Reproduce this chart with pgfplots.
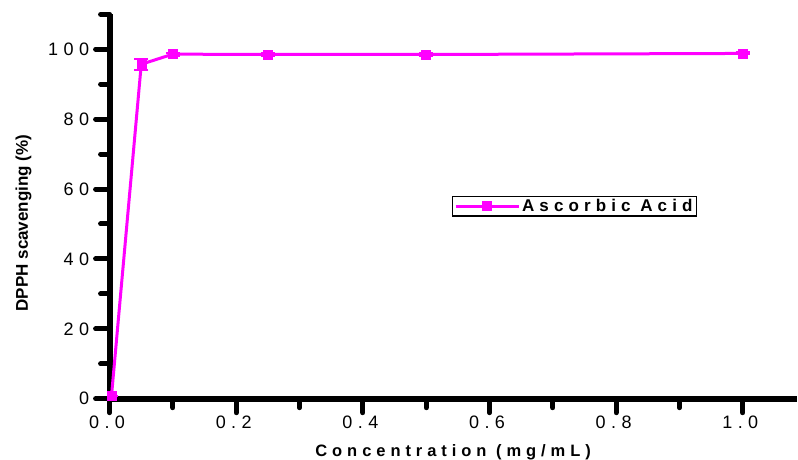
\documentclass[border=0pt]{standalone}
\usepackage{pgfplots}
\pgfplotsset{compat=1.18}
\usepackage{fontspec}
\setmainfont{Liberation Sans}
\newfontfamily\spaced[LetterSpace=30]{Liberation Sans}
\definecolor{mag}{RGB}{255,0,255}

\begin{document}
\begin{tikzpicture}
\begin{axis}[
scale only axis,
width=687pt,
height=384.4pt,
xmin=0, xmax=1.085,
ymin=0, ymax=110,
axis x line*=bottom,
axis y line*=left,
separate axis lines,
x axis line style={-, line width=6pt},
y axis line style={-, line width=6pt},
tick align=outside,
xtick={0,0.2,0.4,0.6,0.8,1.0},
ytick={0,20,40,60,80,100},
minor xtick={0.1,0.3,0.5,0.7,0.9},
minor ytick={10,30,50,70,90,110},
major tick length=14pt,
minor tick length=9pt,
every tick/.append style={black, line width=5pt, line cap=round},
/pgf/number format/assume math mode=true,
ticklabel style={font=\spaced\fontsize{18}{18}\selectfont},
xticklabel style={xshift=-2.5pt, /pgf/number format/.cd, fixed, fixed zerofill, precision=1},
yticklabel style={xshift=-3pt, /pgf/number format/.cd, fixed, precision=0},
xlabel={\spaced\bfseries Concentration (mg/mL)},
xlabel style={font=\fontsize{16.5}{16.5}\selectfont, at={(axis description cs:0.5,0)}, anchor=base, yshift=-57.5pt},
ylabel={\bfseries DPPH scavenging (\%)},
ylabel style={font=\fontsize{17}{17}\selectfont, at={(axis description cs:-0.1188,0.457)}, anchor=base},
legend style={at={(axis cs:0.54,58.1)}, anchor=north west, draw=black, line width=1.2pt,
  font=\spaced\bfseries\fontsize{17}{17}\selectfont, inner xsep=2pt, inner ysep=1pt},
legend cell align=left,
legend image code/.code={\draw[mark repeat=2,mark phase=2,#1] plot coordinates {(0pt,0pt) (31.5pt,0pt) (63pt,0pt)};},
]
\coordinate (o) at (rel axis cs:0,0);
\addplot[
color=mag,
line width=3pt,
mark=square*,
mark size=4.5pt,
mark options={solid, fill=mag, line width=0.5pt},
error bars/.cd,
y dir=both, y explicit,
error bar style={line width=2.5pt, mag},
error mark options={rotate=90, mag, mark size=7pt, line width=2pt}
]
coordinates {
(0.003,0.8) +- (0,0)
(0.05,95.7) +- (0,1.6)
(0.1,98.6) +- (0,0.4)
(0.25,98.5) +- (0,0.3)
(0.5,98.5) +- (0,0.3)
(1.0,98.8) +- (0,0.3)
};
\addlegendentry{Ascorbic Acid}
\end{axis}
\pgfresetboundingbox
\path[use as bounding box] ([xshift=-109.6pt,yshift=-60.3pt]o) rectangle ++(798pt,459pt);
\end{tikzpicture}
\end{document}
